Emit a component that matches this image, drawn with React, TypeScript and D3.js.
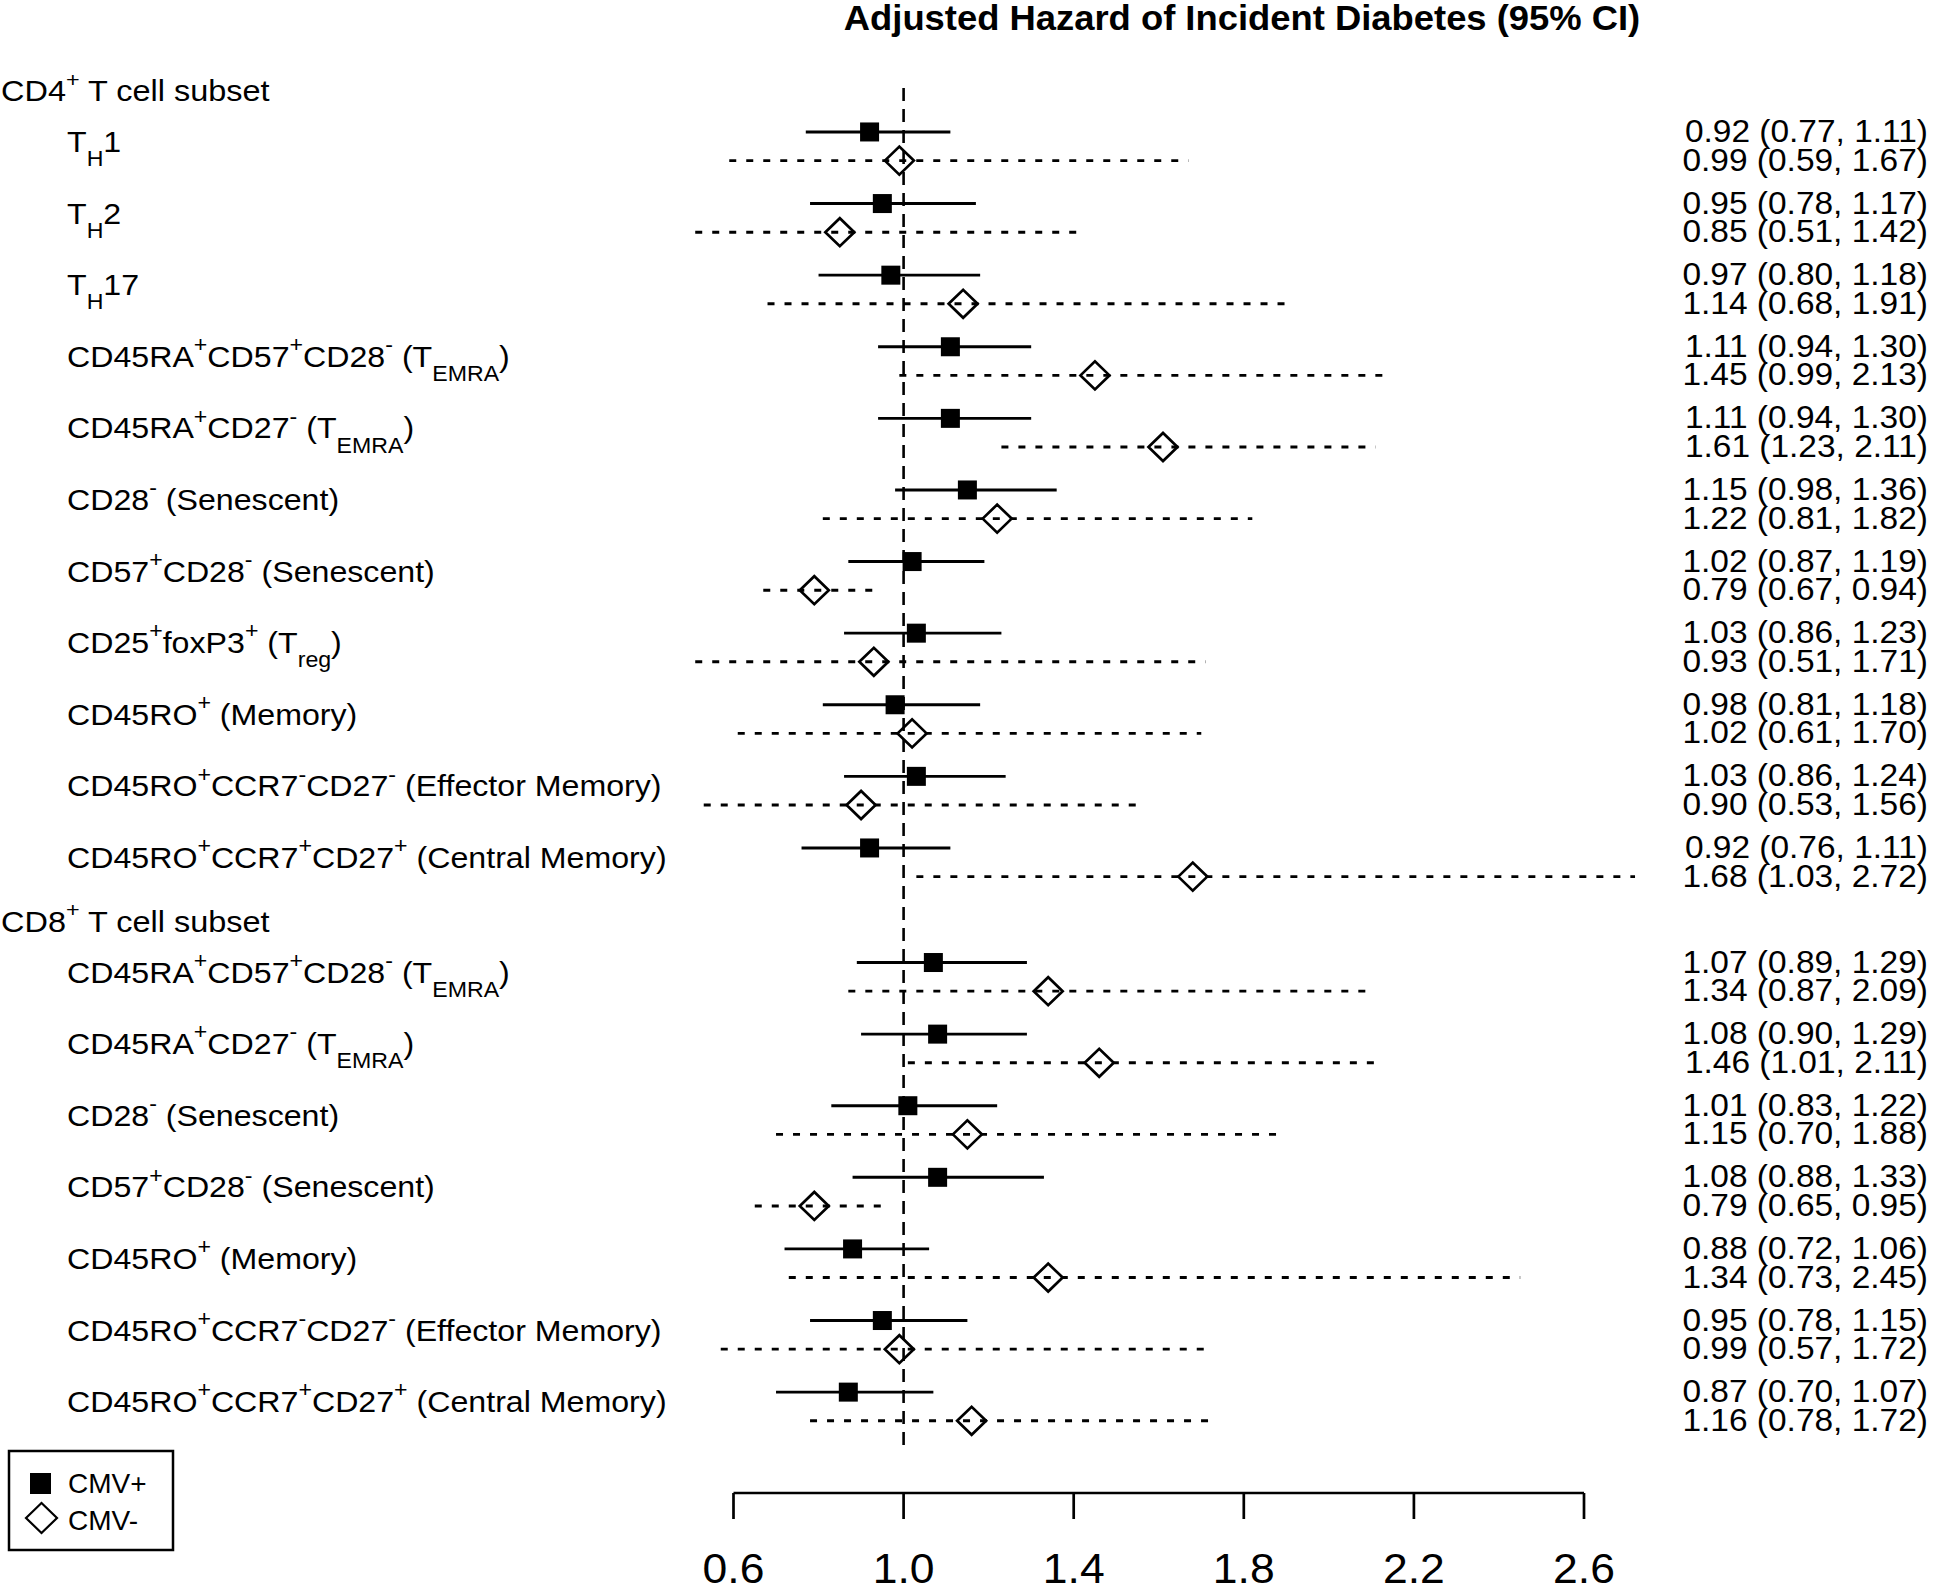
import React from 'react';
import * as d3 from 'd3';

const W = 1933;
const H = 1588;

const title = 'Adjusted Hazard of Incident Diabetes (95% CI)';
const groupHeaders = ['CD4^+ T cell subset', 'CD8^+ T cell subset'];

const cd4Labels = [
  'T_{H}1',
  'T_{H}2',
  'T_{H}17',
  'CD45RA^+CD57^+CD28^- (T_{EMRA})',
  'CD45RA^+CD27^- (T_{EMRA})',
  'CD28^- (Senescent)',
  'CD57^+CD28^- (Senescent)',
  'CD25^+foxP3^+ (T_{reg})',
  'CD45RO^+ (Memory)',
  'CD45RO^+CCR7^-CD27^- (Effector Memory)',
  'CD45RO^+CCR7^+CD27^+ (Central Memory)',
];
const cd8Labels = [
  'CD45RA^+CD57^+CD28^- (T_{EMRA})',
  'CD45RA^+CD27^- (T_{EMRA})',
  'CD28^- (Senescent)',
  'CD57^+CD28^- (Senescent)',
  'CD45RO^+ (Memory)',
  'CD45RO^+CCR7^-CD27^- (Effector Memory)',
  'CD45RO^+CCR7^+CD27^+ (Central Memory)',
];

// CMV+ (filled squares)
const cd4PosEst = [0.92, 0.95, 0.97, 1.11, 1.11, 1.15, 1.02, 1.03, 0.98, 1.03, 0.92];
const cd4PosLo = [0.77, 0.78, 0.8, 0.94, 0.94, 0.98, 0.87, 0.86, 0.81, 0.86, 0.76];
const cd4PosHi = [1.11, 1.17, 1.18, 1.3, 1.3, 1.36, 1.19, 1.23, 1.18, 1.24, 1.11];
// CMV- (open diamonds)
const cd4NegEst = [0.99, 0.85, 1.14, 1.45, 1.61, 1.22, 0.79, 0.93, 1.02, 0.9, 1.68];
const cd4NegLo = [0.59, 0.51, 0.68, 0.99, 1.23, 0.81, 0.67, 0.51, 0.61, 0.53, 1.03];
const cd4NegHi = [1.67, 1.42, 1.91, 2.13, 2.11, 1.82, 0.94, 1.71, 1.7, 1.56, 2.72];

const cd8PosEst = [1.07, 1.08, 1.01, 1.08, 0.88, 0.95, 0.87];
const cd8PosLo = [0.89, 0.9, 0.83, 0.88, 0.72, 0.78, 0.7];
const cd8PosHi = [1.29, 1.29, 1.22, 1.33, 1.06, 1.15, 1.07];
const cd8NegEst = [1.34, 1.46, 1.15, 0.79, 1.34, 0.99, 1.16];
const cd8NegLo = [0.87, 1.01, 0.7, 0.65, 0.73, 0.57, 0.78];
const cd8NegHi = [2.09, 2.11, 1.88, 0.95, 2.45, 1.72, 1.72];

const xTicks = [0.6, 1.0, 1.4, 1.8, 2.2, 2.6];
const legendLabels = ['CMV+', 'CMV-'];

const FONT = '"Liberation Sans", Arial, Helvetica, sans-serif';

type Seg = { t: string; k: 'n' | 'sup' | 'sub' };
function parseMarkup(s: string): Seg[] {
  const out: Seg[] = [];
  let buf = '';
  let i = 0;
  const flush = () => {
    if (buf) out.push({ t: buf, k: 'n' });
    buf = '';
  };
  while (i < s.length) {
    const c = s[i];
    if (c === '^') {
      flush();
      out.push({ t: s[i + 1], k: 'sup' });
      i += 2;
    } else if (c === '_' && s[i + 1] === '{') {
      flush();
      const end = s.indexOf('}', i);
      out.push({ t: s.slice(i + 2, end), k: 'sub' });
      i = end + 1;
    } else {
      buf += c;
      i++;
    }
  }
  flush();
  return out;
}

function RichText({ x, y, s, size, sx = 1, anchor = 'start', weight = 'normal' }: any) {
  const segs = parseMarkup(s);
  let cur = 0;
  return (
    <text
      transform={`translate(${x},${y}) scale(${sx},1)`}
      fontSize={size}
      fontFamily={FONT}
      fontWeight={weight}
      textAnchor={anchor}
      style={{ whiteSpace: 'pre' }}
      fill="#000"
    >
      {segs.map((sg, i) => {
        const target = sg.k === 'sup' ? -size * 0.5 : sg.k === 'sub' ? size * 0.48 : 0;
        const dy = target - cur;
        cur = target;
        return (
          <tspan key={i} dy={dy} fontSize={sg.k === 'n' ? size : size * 0.72}>
            {sg.t}
          </tspan>
        );
      })}
    </text>
  );
}

export default function App() {
  const x = d3.scaleLinear().domain([0.6, 2.6]).range([733.5, 1584]);
  // vertical layout in "line units"
  const y = d3.scaleLinear().domain([0, 1]).range([89, 89 + 14.32]);
  const fmt = d3.format('.2f');
  const tickFmt = d3.format('.1f');

  type Row = { label: string; unit: number; pe: number; pl: number; ph: number; ne: number; nl: number; nh: number };
  const rows: Row[] = [];
  cd4Labels.forEach((l, k) =>
    rows.push({ label: l, unit: 3 + 5 * k, pe: cd4PosEst[k], pl: cd4PosLo[k], ph: cd4PosHi[k], ne: cd4NegEst[k], nl: cd4NegLo[k], nh: cd4NegHi[k] })
  );
  cd8Labels.forEach((l, k) =>
    rows.push({ label: l, unit: 61 + 5 * k, pe: cd8PosEst[k], pl: cd8PosLo[k], ph: cd8PosHi[k], ne: cd8NegEst[k], nl: cd8NegLo[k], nh: cd8NegHi[k] })
  );
  const headerUnits = [0, 58];

  const sq = 19;
  const dw = 14.5;
  const dh = 14;
  const diamond = (cx: number, cy: number, w: number, h: number) =>
    `M${cx - w},${cy} L${cx},${cy - h} L${cx + w},${cy} L${cx},${cy + h} Z`;

  const axisY = 1493;

  return (
    <svg width={W} height={H} style={{ position: 'absolute', left: 0, top: 0, background: '#fff' }}>
      <rect x={0} y={0} width={W} height={H} fill="#fff" />
      <RichText x={1242} y={30} s={title} size={35} sx={1.04} anchor="middle" weight="bold" />

      {groupHeaders.map((h, i) => (
        <RichText key={h} x={1} y={y(headerUnits[i]) + 12} s={h} size={29} sx={1.12} />
      ))}

      {rows.map((r, i) => (
        <RichText key={'l' + i} x={67} y={y(r.unit) + 20} s={r.label} size={29.5} sx={1.09} />
      ))}

      {/* reference line */}
      <line x1={x(1)} x2={x(1)} y1={88} y2={1450} stroke="#000" strokeWidth={2.6} strokeDasharray="13 8" />

      {rows.map((r, i) => {
        const yp = y(r.unit);
        const yn = y(r.unit + 2);
        return (
          <g key={'m' + i}>
            <line x1={x(r.pl)} x2={x(r.ph)} y1={yp} y2={yp} stroke="#000" strokeWidth={2.9} />
            <rect x={x(r.pe) - sq / 2} y={yp - sq / 2} width={sq} height={sq} fill="#000" />
            <line x1={x(r.nl)} x2={x(r.nh)} y1={yn} y2={yn} stroke="#000" strokeWidth={2.9} strokeDasharray="7 10" />
            <path d={diamond(x(r.ne), yn, dw, dh)} fill="none" stroke="#000" strokeWidth={2.7} />
          </g>
        );
      })}

      {rows.map((r, i) => (
        <g key={'t' + i}>
          <RichText x={1928} y={y(r.unit) + 10} s={`${fmt(r.pe)} (${fmt(r.pl)}, ${fmt(r.ph)})`} size={31} sx={1.08} anchor="end" />
          <RichText x={1928} y={y(r.unit + 2) + 10} s={`${fmt(r.ne)} (${fmt(r.nl)}, ${fmt(r.nh)})`} size={31} sx={1.08} anchor="end" />
        </g>
      ))}

      {/* x axis */}
      <line x1={x(xTicks[0])} x2={x(xTicks[xTicks.length - 1])} y1={axisY} y2={axisY} stroke="#000" strokeWidth={2.7} />
      {xTicks.map((t) => (
        <g key={t}>
          <line x1={x(t)} x2={x(t)} y1={axisY} y2={axisY + 26} stroke="#000" strokeWidth={2.7} />
          <RichText x={x(t)} y={1583} s={tickFmt(t)} size={42} sx={1.06} anchor="middle" />
        </g>
      ))}

      {/* legend */}
      <rect x={9} y={1451} width={164} height={99} fill="none" stroke="#000" strokeWidth={2.5} />
      <rect x={30} y={1473} width={21} height={21} fill="#000" />
      <path d={diamond(41.5, 1518, 15.5, 15)} fill="none" stroke="#000" strokeWidth={2.2} />
      <RichText x={68} y={1493} s={legendLabels[0]} size={28} />
      <RichText x={68} y={1530} s={legendLabels[1]} size={28} />
    </svg>
  );
}
